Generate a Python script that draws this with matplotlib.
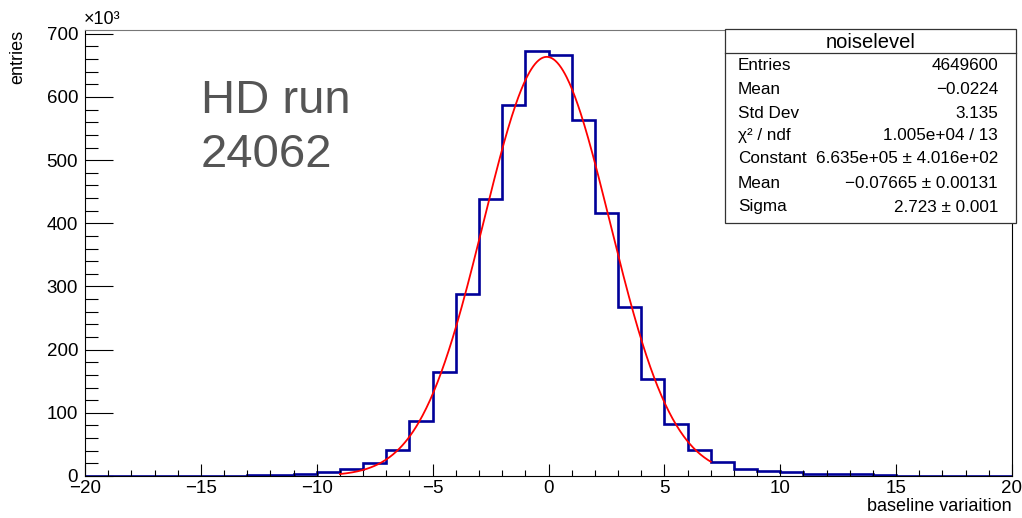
# ==========================================================
# NOISE LEVEL HISTOGRAM WITH GAUSSIAN FIT
# ==========================================================

import numpy as np
import matplotlib
matplotlib.use("Agg")
import matplotlib.pyplot as plt
from matplotlib.patches import Rectangle
from matplotlib.ticker import MultipleLocator

# ==========================================================
# DATA
# ==========================================================

# bin edges of the baseline variation histogram (1 unit wide)
bin_edges = np.arange(-20, 21, 1)

# entries per bin, in units of 10^3
bin_counts = [
    0.2, 0.2, 0.3, 0.3, 0.4, 0.5, 0.6,          # -20 .. -14
    0.9, 1.6, 3.6, 6.0, 10.6, 21.0, 41.0,        # -13 .. -7
    87.0, 165.0, 288.0, 439.0, 587.0, 673.5,     # -6 .. -1
    666.0, 564.0, 416.0, 268.0, 153.0, 82.0,     # 0 .. 5
    41.0, 22.7, 11.0, 8.0, 5.8, 3.3, 2.6, 2.5,   # 6 .. 13
    0.9, 0.7, 0.6, 0.5, 0.4, 0.3                 # 14 .. 19
]

# Gaussian fit parameters (constant in counts)
fit_constant = 6.635e5
fit_mean = -0.07665
fit_sigma = 2.723
fit_range = (-9, 7)

# statistics box
stats_title = "noiselevel"
stats_names = ["Entries", "Mean", "Std Dev", "χ² / ndf",
               "Constant", "Mean", "Sigma"]
stats_values = ["4649600", "−0.0224", "3.135", "1.005e+04 / 13",
                "6.635e+05 ± 4.016e+02", "−0.07665 ± 0.00131",
                "2.723 ± 0.001"]

# ==========================================================
# FIGURE
# ==========================================================

plt.rcParams["font.family"] = ["Liberation Sans", "DejaVu Sans"]

W, H = 1022, 518
fig = plt.figure(figsize=(W / 100, H / 100), dpi=100)

ax = fig.add_axes([85 / W, 1 - 476 / H, 927 / W, 446 / H])


def px(x, y):
    # pixel position (from top-left) to figure fraction
    return x / W, 1 - y / H


# histogram
ax.stairs(bin_counts, bin_edges, color="#000099", linewidth=1.9)

# Gaussian fit curve
xf = np.linspace(fit_range[0], fit_range[1], 400)
yf = fit_constant * np.exp(-0.5 * ((xf - fit_mean) / fit_sigma) ** 2) / 1e3
ax.plot(xf, yf, color="#ff0000", linewidth=1.3)

# ==========================================================
# AXES
# ==========================================================

ax.set_xlim(-20, 20)
ax.set_ylim(0, 706)

ax.xaxis.set_major_locator(MultipleLocator(5))
ax.xaxis.set_minor_locator(MultipleLocator(1))
ax.yaxis.set_major_locator(MultipleLocator(100))
ax.yaxis.set_minor_locator(MultipleLocator(20))

ax.tick_params(axis="x", which="major", direction="in", length=8.6,
               width=0.8, labelsize=13.5, pad=3)
ax.tick_params(axis="x", which="minor", direction="in", length=4.3,
               width=0.8)
ax.tick_params(axis="y", which="major", direction="in", length=20,
               width=0.8, labelsize=13.5, pad=5)
ax.tick_params(axis="y", which="minor", direction="in", length=9.4,
               width=0.8)

for side in ["left", "bottom", "right", "top"]:
    ax.spines[side].set_linewidth(0.8)
ax.spines["top"].set_color("#777777")

ax.set_xlabel("baseline variaition", fontsize=13, loc="right")
ax.xaxis.set_label_coords(1.0, -0.05)
ax.set_ylabel("entries", fontsize=13, loc="top")
ax.yaxis.set_label_coords(-0.063, 1.0)

fig.text(*px(84, 19), "×10³", fontsize=13, ha="left", va="center")

# run label
ax.text(*px(201, 128), "HD run\n24062", transform=fig.transFigure,
        fontsize=34, color="#555555", ha="left", va="center",
        linespacing=1.3)

# ==========================================================
# STATISTICS BOX
# ==========================================================

bx0, by0, bx1, by1 = 725, 29, 1016, 223
fig.patches.append(Rectangle(px(bx0, by1), (bx1 - bx0) / W,
                             (by1 - by0) / H, transform=fig.transFigure,
                             facecolor="white", edgecolor="#333333",
                             linewidth=0.9, zorder=5))
fig.add_artist(plt.Line2D([bx0 / W, bx1 / W], [1 - 53 / H, 1 - 53 / H],
                          transform=fig.transFigure, color="#333333",
                          linewidth=0.9, zorder=6))
fig.text(*px((bx0 + bx1) / 2, 42), stats_title, fontsize=14.5,
         ha="center", va="center", zorder=7)

row_y = [66, 89, 113, 136, 159, 183, 207]
for name, value, yy in zip(stats_names, stats_values, row_y):
    fig.text(*px(738, yy), name, fontsize=12.3, ha="left",
             va="center", zorder=7)
    fig.text(*px(998, yy), value, fontsize=12.3, ha="right",
             va="center", zorder=7)

fig.savefig("out.png", dpi=100)
